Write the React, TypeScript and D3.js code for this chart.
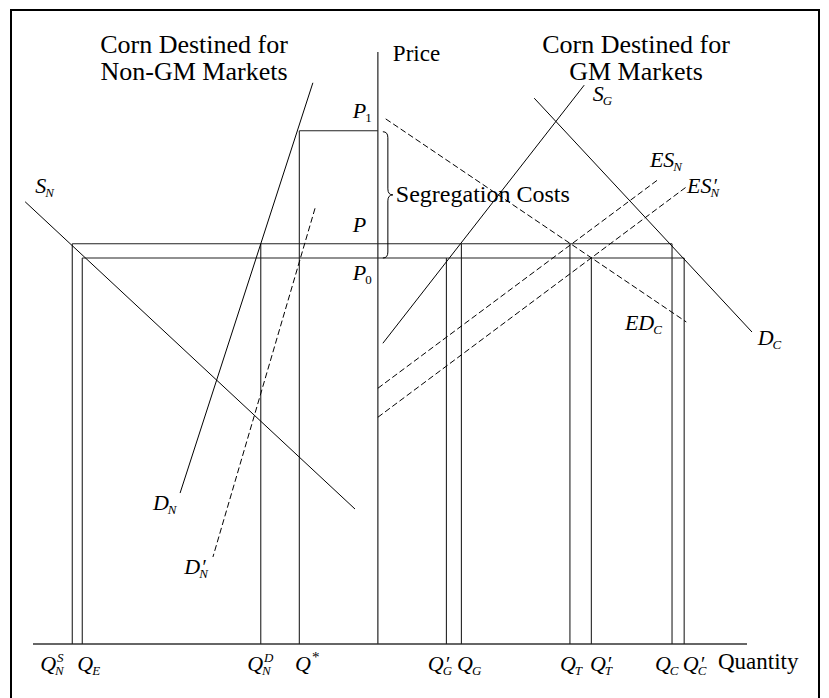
import React, { useEffect, useRef } from "react";
import * as d3 from "d3";

// price levels, in price-axis units (0 at the quantity axis, 100 at the top of the price axis)
const priceLevels = [
  { key: "P1", p: 86.7 },
  { key: "P", p: 67.6 },
  { key: "P0", p: 65.2 },
];
const priceAxisQ = 48.3;

const priceLabels = [
  { main: "P", sub: "1", q: 44.8, p: 88.9 },
  { main: "P", sub: "", q: 44.8, p: 69.6 },
  { main: "P", sub: "0", q: 44.8, p: 61.5 },
];

// quantities marked by the vertical drop lines, and the price level each one starts from
const quantityMarks = [
  { q: 5.5, level: "P" },
  { q: 6.9, level: "P0" },
  { q: 31.9, level: "P" },
  { q: 37.3, level: "P1" },
  { q: 57.9, level: "P0" },
  { q: 60.0, level: "P" },
  { q: 75.2, level: "P" },
  { q: 78.2, level: "P0" },
  { q: 89.5, level: "P" },
  { q: 91.2, level: "P0" },
];

const quantityLabels = [
  { main: "Q", sub: "N", sup: "S", prime: false, q: 1.0 },
  { main: "Q", sub: "E", sup: "", prime: false, q: 6.2 },
  { main: "Q", sub: "N", sup: "D", prime: false, q: 30.0 },
  { main: "Q", sub: "", sup: "*", prime: false, q: 36.7 },
  { main: "Q", sub: "G", sup: "", prime: true, q: 55.3 },
  { main: "Q", sub: "G", sup: "", prime: false, q: 59.4 },
  { main: "Q", sub: "T", sup: "", prime: false, q: 73.8 },
  { main: "Q", sub: "T", sup: "", prime: true, q: 78.0 },
  { main: "Q", sub: "C", sup: "", prime: false, q: 87.1 },
  { main: "Q", sub: "C", sup: "", prime: true, q: 91.0 },
];

// supply / demand curves: [quantity, price] end points
const curves = [
  { id: "SN", dashed: false, pts: [[-1.1, 74.7], [45.1, 22.8]] },
  { id: "DN", dashed: false, pts: [[39.2, 94.8], [20.6, 25.5]] },
  { id: "DN2", dashed: true, pts: [[39.5, 73.6], [25.2, 14.7]] },
  { id: "SG", dashed: false, pts: [[77.2, 94.4], [49.0, 50.8]] },
  { id: "DC", dashed: false, pts: [[70.2, 92.2], [100.7, 52.7]] },
  { id: "EDC", dashed: true, pts: [[49.4, 88.7], [91.5, 54.4]] },
  { id: "ESN", dashed: true, pts: [[48.3, 43.2], [87.5, 78.4]] },
  { id: "ESN2", dashed: true, pts: [[48.3, 38.3], [91.5, 77.2]] },
];

const curveLabels = [
  { main: "S", sub: "N", prime: false, q: 0.3, p: 76.2 },
  { main: "D", sub: "N", prime: false, q: 16.8, p: 22.6 },
  { main: "D", sub: "N", prime: true, q: 21.2, p: 11.8 },
  { main: "S", sub: "G", prime: false, q: 78.4, p: 91.7 },
  { main: "ES", sub: "N", prime: false, q: 86.4, p: 80.6 },
  { main: "ES", sub: "N", prime: true, q: 91.6, p: 76.2 },
  { main: "ED", sub: "C", prime: false, q: 82.9, p: 53.0 },
  { main: "D", sub: "C", prime: false, q: 101.5, p: 50.5 },
];

const FONT = "'Liberation Serif', 'Times New Roman', serif";

export default function App() {
  const svgRef = useRef<SVGSVGElement>(null);

  useEffect(() => {
    const svg = d3.select(svgRef.current);
    svg.selectAll("*").remove();

    const x = d3.scaleLinear().domain([0, 100]).range([33, 747]);
    const y = d3.scaleLinear().domain([0, 100]).range([644, 52]);
    const levelP = (k: string) => priceLevels.find((d) => d.key === k)!.p;

    // frame
    svg.append("rect")
      .attr("x", 11).attr("y", 10)
      .attr("width", 808).attr("height", 700)
      .attr("fill", "none").attr("stroke", "#000").attr("stroke-width", 2);

    const g = svg.append("g").attr("font-family", FONT).attr("fill", "#000");

    // axes
    g.append("line")
      .attr("x1", x(0)).attr("x2", x(100))
      .attr("y1", y(0)).attr("y2", y(0))
      .attr("stroke", "#333").attr("stroke-width", 1.3);
    g.append("line")
      .attr("x1", x(priceAxisQ)).attr("x2", x(priceAxisQ))
      .attr("y1", y(0)).attr("y2", y(100))
      .attr("stroke", "#333").attr("stroke-width", 1.3);

    // horizontal price lines, spanning the drop lines that hang from them
    priceLevels.forEach((lv) => {
      const qs = quantityMarks.filter((m) => m.level === lv.key).map((m) => m.q);
      qs.push(priceAxisQ);
      g.append("line")
        .attr("x1", x(d3.min(qs)!)).attr("x2", x(d3.max(qs)!))
        .attr("y1", y(lv.p)).attr("y2", y(lv.p))
        .attr("stroke", "#222").attr("stroke-width", 1.1);
    });

    // vertical drop lines
    quantityMarks.forEach((m) => {
      g.append("line")
        .attr("x1", x(m.q)).attr("x2", x(m.q))
        .attr("y1", y(levelP(m.level))).attr("y2", y(0))
        .attr("stroke", "#222").attr("stroke-width", 1.1);
    });

    // curves
    const line = d3.line<number[]>().x((d) => x(d[0])).y((d) => y(d[1]));
    curves.forEach((c) => {
      g.append("path")
        .attr("d", line(c.pts))
        .attr("fill", "none")
        .attr("stroke", "#000")
        .attr("stroke-width", 1)
        .attr("stroke-dasharray", c.dashed ? "6,3" : null);
    });

    // brace for segregation costs
    const bx = x(priceAxisQ) + 5;
    const y1 = y(levelP("P1")) + 1;
    const y0 = y(levelP("P0"));
    const ym = (y1 + y0) / 2;
    g.append("path")
      .attr("d", `M${bx} ${y1} Q${bx + 5} ${y1} ${bx + 5} ${y1 + 6} L${bx + 5} ${ym - 6} Q${bx + 5} ${ym} ${bx + 10} ${ym} Q${bx + 5} ${ym} ${bx + 5} ${ym + 6} L${bx + 5} ${y0 - 6} Q${bx + 5} ${y0} ${bx} ${y0}`)
      .attr("fill", "none").attr("stroke", "#000").attr("stroke-width", 1);

    // math-style labels
    const drawLabel = (
      px: number, py: number, main: string,
      sub: string, sup: string, prime: boolean, subUpright = false
    ) => {
      const t = g.append("text")
        .attr("x", px).attr("y", py)
        .attr("font-size", 22).attr("font-style", "italic")
        .text(main);
      const w = (t.node() as SVGTextElement).getComputedTextLength();
      if (prime) {
        g.append("text").attr("x", px + w + 1).attr("y", py)
          .attr("font-size", 20).attr("font-style", "italic").text("\u2032");
      }
      if (sup) {
        g.append("text").attr("x", px + w + 1).attr("y", py - 9)
          .attr("font-size", sup === "*" ? 15 : 13)
          .attr("font-style", sup === "*" ? "normal" : "italic").text(sup);
      }
      if (sub) {
        g.append("text").attr("x", px + w - 1).attr("y", py + 4)
          .attr("font-size", 13)
          .attr("font-style", subUpright ? "normal" : "italic").text(sub);
      }
    };

    priceLabels.forEach((l) => drawLabel(x(l.q), y(l.p), l.main, l.sub, "", false, true));
    curveLabels.forEach((l) => drawLabel(x(l.q), y(l.p), l.main, l.sub, "", l.prime));
    quantityLabels.forEach((l) => drawLabel(x(l.q), y(0) + 27, l.main, l.sub, l.sup, l.prime));

    // titles and axis names
    const titles = [
      { cx: 194, lines: ["Corn Destined for", "Non-GM Markets"] },
      { cx: 636, lines: ["Corn Destined for", "GM Markets"] },
    ];
    titles.forEach((tt) => {
      tt.lines.forEach((s, i) => {
        g.append("text")
          .attr("x", tt.cx).attr("y", 53 + i * 27)
          .attr("text-anchor", "middle").attr("font-size", 26).text(s);
      });
    });
    g.append("text").attr("x", x(priceAxisQ) + 15).attr("y", 61)
      .attr("font-size", 23).text("Price");
    g.append("text").attr("x", 718).attr("y", y(0) + 25)
      .attr("font-size", 23).text("Quantity");
    g.append("text").attr("x", bx + 13).attr("y", ym + 7)
      .attr("font-size", 24).text("Segregation Costs");
  }, []);

  return (
    <svg
      ref={svgRef}
      width={829}
      height={698}
      style={{ position: "absolute", left: 0, top: 0, background: "#fff" }}
    />
  );
}
